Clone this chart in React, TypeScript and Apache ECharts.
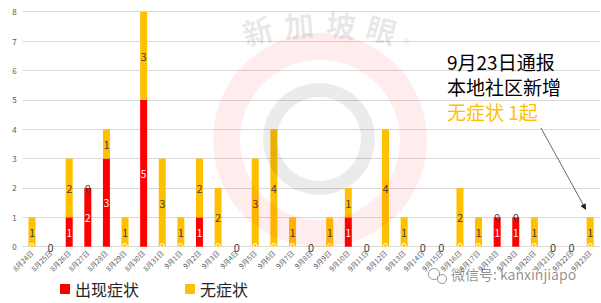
import React, { useEffect, useRef } from "react";
import * as echarts from "echarts";

const categories = [
  "8月24日", "8月25日", "8月26日", "8月27日", "8月28日", "8月29日", "8月30日", "8月31日",
  "9月1日", "9月2日", "9月3日", "9月4日", "9月5日", "9月6日", "9月7日", "9月8日",
  "9月9日", "9月10日", "9月11日", "9月12日", "9月13日", "9月14日", "9月15日", "9月16日",
  "9月17日", "9月18日", "9月19日", "9月20日", "9月21日", "9月22日", "9月23日",
];
const symptomatic = [0, 0, 1, 2, 3, 0, 5, 0, 0, 1, 0, 0, 0, 0, 0, 0, 0, 1, 0, 0, 0, 0, 0, 0, 0, 1, 1, 0, 0, 0, 0];
const asymptomatic = [1, 0, 2, 0, 1, 1, 3, 3, 1, 2, 2, 0, 3, 4, 1, 0, 1, 1, 0, 4, 1, 0, 0, 2, 1, 0, 0, 1, 0, 0, 1];
const yTicks = [0, 1, 2, 3, 4, 5, 6, 7, 8];

const FONT = "'Noto Sans CJK SC', 'Noto Sans', sans-serif";

export default function App() {
  const ref = useRef<HTMLDivElement>(null);
  useEffect(() => {
    document.body.style.margin = "0";
    if (!ref.current) return;
    const chart = echarts.init(ref.current, undefined, { renderer: "svg" });
    const wmChars = [
      { t: "新", x: 257, y: 30, a: -16 },
      { t: "加", x: 299, y: 24, a: -5 },
      { t: "坡", x: 341, y: 24, a: 5 },
      { t: "眼", x: 382, y: 29, a: 16 },
    ];
    const wmText = wmChars.map((c) => {
      const rad = (c.a * Math.PI) / 180;
      return {
        type: "text",
        x: c.x,
        y: c.y,
        rotation: -rad,
        z: 100,
        silent: true,
        style: {
          text: c.t,
          fontSize: 30,
          fontFamily: FONT,
          fontWeight: "bold",
          fill: "rgba(0,0,0,0.09)",
          align: "center",
          verticalAlign: "middle",
        },
      };
    });
    const noteLines = [
      { t: "9月23日通报", c: "#000000", top: 52 },
      { t: "本地社区新增", c: "#000000", top: 77 },
      { t: "无症状 1起", c: "#FFC000", top: 102 },
    ];
    chart.setOption({
      animation: false,
      textStyle: { fontFamily: FONT },
      grid: { left: 22.7, right: 1.5, top: 11.7, bottom: 56.3, containLabel: false },
      legend: {
        left: 60,
        top: 281,
        padding: 0,
        icon: "rect",
        itemWidth: 10,
        itemHeight: 10,
        itemGap: 46,
        textStyle: { fontSize: 16, color: "#262626", fontFamily: FONT },
        data: ["出现症状", "无症状"],
      },
      xAxis: {
        type: "category",
        data: categories,
        boundaryGap: true,
        axisTick: { show: false },
        axisLine: { lineStyle: { color: "#d9d9d9", width: 1 } },
        axisLabel: { interval: 0, rotate: 45, fontSize: 7, color: "#595959", margin: 5 },
      },
      yAxis: {
        type: "value",
        min: yTicks[0],
        max: yTicks[yTicks.length - 1],
        interval: 1,
        axisLine: { show: false },
        axisTick: { show: false },
        splitLine: { lineStyle: { color: "#d9d9d9", width: 1 } },
        axisLabel: { fontSize: 8, color: "#595959", margin: 6 },
      },
      series: [
        {
          name: "出现症状",
          type: "bar",
          stack: "total",
          barWidth: 7,
          data: symptomatic,
          itemStyle: { color: "#FF0000" },
          label: { show: true, position: "inside", color: "#ffffff", fontSize: 10 },
        },
        {
          name: "无症状",
          type: "bar",
          stack: "total",
          barWidth: 7,
          data: asymptomatic,
          itemStyle: { color: "#FFC000" },
          label: { show: true, position: "inside", color: "#404040", fontSize: 11 },
        },
      ],
      graphic: [
        {
          type: "ring",
          z: 100,
          silent: true,
          shape: { cx: 320, cy: 140, r: 107, r0: 80 },
          style: { fill: "rgba(255,0,0,0.07)" },
        },
        {
          type: "ring",
          z: 100,
          silent: true,
          shape: { cx: 319, cy: 139, r: 56, r0: 42 },
          style: { fill: "rgba(0,0,0,0.08)" },
        },
        ...wmText,
        {
          type: "text",
          x: 407,
          y: 45,
          z: 100,
          silent: true,
          style: {
            text: "®",
            fontSize: 18,
            fontFamily: FONT,
            fill: "rgba(0,0,0,0.09)",
            align: "center",
            verticalAlign: "middle",
          },
        },
        ...noteLines.map((l) => ({
          type: "text",
          left: 447,
          top: l.top,
          z: 110,
          style: { text: l.t, fontSize: 19, fontFamily: FONT, fill: l.c },
        })),
        {
          type: "line",
          z: 110,
          shape: { x1: 541, y1: 128, x2: 584.5, y2: 207 },
          style: { stroke: "#404040", lineWidth: 0.8 },
        },
        {
          type: "polygon",
          z: 110,
          shape: { points: [[586, 210], [580.5, 206.1], [585.7, 203.3]] },
          style: { fill: "#202020" },
        },
        {
          type: "circle",
          z: 110,
          silent: true,
          shape: { cx: 434, cy: 274, r: 5.5 },
          style: { fill: "none", stroke: "rgba(0,0,0,0.4)", lineWidth: 1 },
        },
        {
          type: "circle",
          z: 110,
          silent: true,
          shape: { cx: 442, cy: 279, r: 4.5 },
          style: { fill: "rgba(255,255,255,0.8)", stroke: "rgba(0,0,0,0.4)", lineWidth: 1 },
        },
        {
          type: "text",
          left: 451,
          top: 267,
          z: 110,
          silent: true,
          style: {
            text: "微信号: kanxinjiapo",
            fontSize: 14,
            fontFamily: FONT,
            fill: "rgba(0,0,0,0.45)",
          },
        },
      ],
    });
    return () => chart.dispose();
  }, []);
  return <div ref={ref} style={{ width: 601, height: 303 }} />;
}
